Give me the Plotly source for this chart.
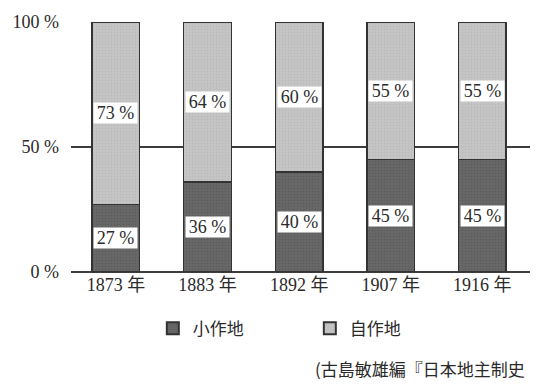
import plotly.graph_objects as go

years = ["1873 年", "1883 年", "1892 年", "1907 年", "1916 年"]
tenant = [27, 36, 40, 45, 45]      # 小作地
owner = [73, 64, 60, 55, 55]       # 自作地
series_names = ["小作地", "自作地"]
ytick_vals = [0, 50, 100]
ytick_text = ["0 %", "50 %", "100 %"]
source_text = "(古島敏雄編『日本地主制史"

SERIF = "Liberation Serif, DejaVu Serif, Noto Sans CJK JP, serif"
TXT = "#2a2a2a"

fig = go.Figure()
fig.add_trace(go.Bar(
    x=years, y=tenant, name=series_names[0], width=0.52,
    marker=dict(color="#666666", line=dict(color="#333333", width=1.5),
                pattern=dict(shape=".", fgcolor="#525252", bgcolor="#686868",
                             size=3, solidity=0.35)),
))
fig.add_trace(go.Bar(
    x=years, y=owner, name=series_names[1], width=0.52,
    marker=dict(color="#c4c4c4", line=dict(color="#333333", width=1.5),
                pattern=dict(shape=".", fgcolor="#adadad", bgcolor="#c6c6c6",
                             size=3, solidity=0.35)),
))

# value labels in white boxes at segment centres
for i, yr in enumerate(years):
    for val, base in ((tenant[i], 0), (owner[i], tenant[i])):
        fig.add_annotation(
            x=yr, y=base + val / 2, text=f"{val} %", showarrow=False,
            font=dict(family=SERIF, size=18, color=TXT),
            bgcolor="white", borderpad=0, width=43, height=20,
        )

fig.add_annotation(
    xref="paper", yref="paper", x=(313 - 70) / 460, y=-(372 - 272) / 259,
    xanchor="left", yanchor="middle", text=source_text, showarrow=False,
    font=dict(family="Noto Sans CJK JP", size=17, color=TXT),
)

fig.update_layout(
    barmode="stack",
    width=549, height=384,
    margin=dict(l=70, r=19, t=13, b=112),
    paper_bgcolor="white", plot_bgcolor="white",
    showlegend=True,
    legend=dict(orientation="h", x=(152 - 70) / 460, y=-(312 - 272) / 259,
                xanchor="left", yanchor="top", entrywidth=112, entrywidthmode="pixels",
                font=dict(family="Noto Sans CJK JP", size=17, color=TXT),
                traceorder="normal", itemsizing="constant"),
    xaxis=dict(range=[-0.49, 4.52], showline=False, ticks="",
               tickfont=dict(family=SERIF, size=18, color=TXT), showgrid=False),
    yaxis=dict(range=[0, 100], tickvals=ytick_vals, ticktext=ytick_text,
               showgrid=True, gridcolor="#3c3c3c", gridwidth=1.5,
               zeroline=True, zerolinecolor="#3c3c3c", zerolinewidth=1.5,
               ticks="", ticklabelstandoff=11,
               tickfont=dict(family=SERIF, size=18, color=TXT)),
)

fig.write_html("out.html")
